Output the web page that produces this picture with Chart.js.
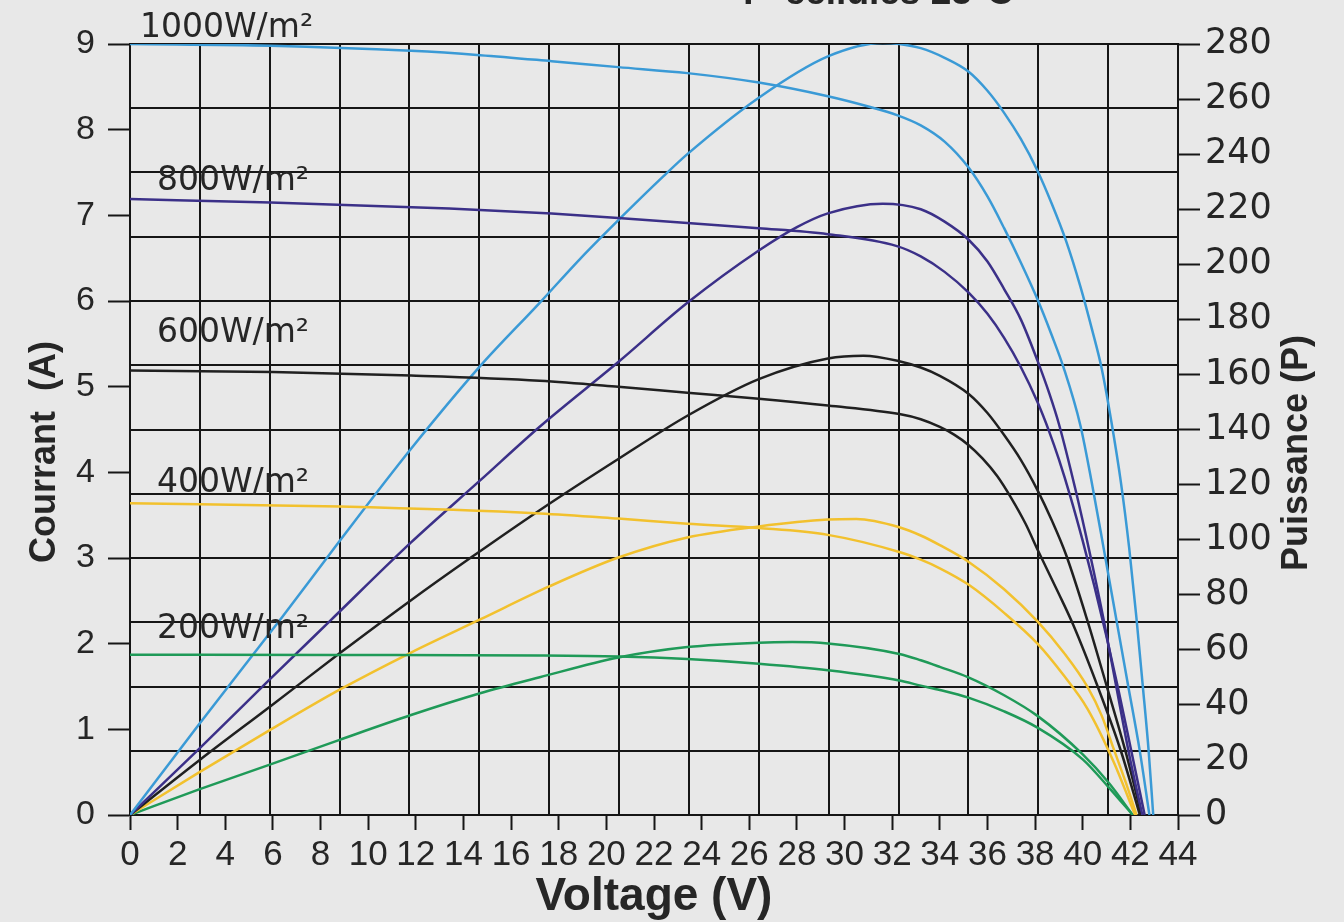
<!DOCTYPE html>
<html>
<head>
<meta charset="utf-8">
<script src="https://cdn.jsdelivr.net/npm/chart.js@4.4.0/dist/chart.umd.min.js"></script>
<style>
  html, body { margin: 0; padding: 0; background: #e8e8e8; }
  #wrap { width: 1344px; height: 922px; position: relative; }
</style>
</head>
<body>
<div id="wrap"><canvas id="curves"></canvas></div>
<script>
const irradiances = ['1000W/m²', '800W/m²', '600W/m²', '400W/m²', '200W/m²'];
const palette = ['#3a9ad6', '#3b3088', '#202020', '#f2c12e', '#1f9a58'];

const voltTicks = [0, 2, 4, 6, 8, 10, 12, 14, 16, 18, 20, 22, 24, 26, 28, 30, 32, 34, 36, 38, 40, 42, 44];
const ampTicks = [0, 1, 2, 3, 4, 5, 6, 7, 8, 9];
const wattTicks = [0, 20, 40, 60, 80, 100, 120, 140, 160, 180, 200, 220, 240, 260, 280];

// courant / tension : [V, A]
const iv1000 = [[0, 9.00], [5.9, 8.98], [11.8, 8.92], [14.7, 8.87], [17.7, 8.80], [20.5, 8.73], [23.4, 8.66], [26.4, 8.55], [29.3, 8.39], [31.0, 8.27], [32.2, 8.17], [33.2, 8.05], [34.2, 7.86], [35.2, 7.56], [36.0, 7.22], [36.7, 6.85], [37.4, 6.45], [38.1, 6.02], [38.7, 5.60], [39.2, 5.22], [39.9, 4.55], [40.4, 3.85], [40.9, 3.08], [41.4, 2.30], [41.9, 1.52], [42.4, 0.74], [42.8, 0]];
const iv800 = [[0, 7.19], [5.9, 7.15], [13.4, 7.08], [17.7, 7.02], [20.5, 6.97], [23.4, 6.91], [26.4, 6.85], [29.3, 6.78], [32.2, 6.64], [33.2, 6.52], [34.2, 6.34], [35.2, 6.10], [36.0, 5.85], [36.7, 5.57], [37.4, 5.23], [38.1, 4.82], [38.6, 4.47], [39.0, 4.15], [39.5, 3.70], [40.0, 3.20], [40.5, 2.66], [41.0, 2.08], [41.5, 1.46], [42.0, 0.80], [42.6, 0]];
const iv600 = [[0, 5.19], [6, 5.17], [11.8, 5.13], [17.2, 5.07], [20.5, 5.00], [23.4, 4.93], [26.4, 4.86], [29.3, 4.78], [32.3, 4.68], [33.2, 4.62], [34.0, 4.53], [34.6, 4.44], [35.2, 4.32], [35.8, 4.16], [36.4, 3.96], [37.0, 3.70], [37.6, 3.40], [38.1, 3.10], [39.0, 2.58], [39.6, 2.22], [40.6, 1.52], [41.6, 0.75], [42.4, 0]];
const iv400 = [[0, 3.64], [8.8, 3.60], [17.2, 3.52], [20.5, 3.46], [23.4, 3.40], [26.4, 3.35], [29.3, 3.27], [32.3, 3.07], [33.2, 2.98], [34.0, 2.88], [35.2, 2.69], [36.7, 2.36], [38.1, 2.00], [39.2, 1.63], [40.2, 1.24], [41.3, 0.62], [42.2, 0]];
const iv200 = [[0, 1.87], [8.8, 1.868], [17.2, 1.862], [20.5, 1.85], [23.4, 1.82], [26.4, 1.765], [29.3, 1.69], [32.3, 1.57], [33.2, 1.51], [34.0, 1.46], [35.2, 1.37], [36.7, 1.21], [38.1, 1.02], [40.0, 0.65], [41.1, 0.32], [42.1, 0]];

// puissance / tension : [V, W]
const pv1000 = [[0, 0], [2.9, 33], [6.4, 72], [8.8, 99.5], [11.8, 133], [14.7, 163], [17.2, 186], [18.9, 202], [20.5, 216], [22.4, 232], [23.4, 240], [26.4, 260.5], [29.3, 275.5], [31.6, 280.4], [32.3, 280], [33.2, 278.5], [34.2, 275], [35.2, 270], [36.0, 263], [36.7, 255], [37.4, 245.5], [38.1, 234], [38.7, 222], [39.3, 208.5], [39.9, 192], [40.4, 176], [40.8, 162], [41.2, 143], [41.6, 121], [41.95, 97], [42.25, 72], [42.52, 47], [42.77, 23], [42.96, 0]];
const pv800 = [[0, 0], [2.9, 24], [5.9, 49.5], [8.4, 70.5], [11.8, 99], [14.7, 121.5], [17.2, 141], [20.5, 164.5], [23.4, 186], [26.4, 205], [28.0, 213.5], [29.3, 218.5], [31.6, 222], [33.2, 220], [34.2, 215.5], [35.2, 209], [36.0, 201], [36.7, 191], [37.4, 180], [38.1, 165], [38.6, 153], [39.0, 142], [39.7, 118], [40.3, 95], [40.9, 70], [41.4, 47], [41.95, 22], [42.5, 0]];
const pv600 = [[0, 0], [2.9, 19.8], [5.9, 39.5], [8.8, 58.7], [11.8, 78], [14.3, 93.4], [17.2, 110.7], [20.5, 129.3], [23.4, 145], [26.4, 158.3], [29.3, 165.8], [30.8, 166.8], [32.3, 164.8], [33.2, 162.5], [34.0, 159.5], [35.2, 153], [36.0, 146], [36.7, 138], [37.4, 129], [38.1, 118], [38.7, 107], [39.3, 94.5], [40.2, 70.5], [41.0, 47], [41.8, 23], [42.47, 0]];
const pv400 = [[0, 0], [2.9, 15.5], [5.9, 31], [8.8, 45.5], [11.8, 59], [14.7, 71], [17.6, 83], [20.5, 93.5], [23.4, 100.8], [26.4, 104.8], [29.3, 107.3], [30.5, 107.5], [32.3, 104.5], [33.2, 101.5], [34.0, 98], [35.2, 92], [36.7, 82], [38.1, 70.3], [39.2, 59], [40.2, 46.5], [40.8, 36], [41.3, 24], [41.8, 12], [42.26, 0]];
const pv200 = [[0, 0], [2.9, 9.3], [5.9, 18.4], [8.8, 27.3], [11.8, 36.3], [14.7, 44.2], [17.2, 50], [20.5, 57.2], [23.4, 61], [26.4, 62.6], [27.8, 62.8], [29.3, 62.3], [32.3, 58.5], [33.2, 56.2], [34.0, 53.8], [35.2, 50], [36.7, 43.5], [38.1, 36], [40.0, 22], [41.1, 11.6], [42.1, 0]];

const ivCurves = [iv1000, iv800, iv600, iv400, iv200];
const pvCurves = [pv1000, pv800, pv600, pv400, pv200];

const ink = '#262626';
const gridInk = '#161616';

const toPoints = (pairs) => pairs.map(([x, y]) => ({ x, y }));

const curve = (pairs, idx, axis) => ({
  data: toPoints(pairs),
  yAxisID: axis,
  borderColor: palette[idx],
  borderWidth: 2.5,
  pointRadius: 0,
  fill: false,
  cubicInterpolationMode: 'monotone',
});

const datasets = [
  ...ivCurves.map((pairs, idx) => curve(pairs, idx, 'y')),
  ...pvCurves.map((pairs, idx) => curve(pairs, idx, 'yP')),
];

const fixTicks = (values) => (scale) => {
  scale.ticks = values.map((value) => ({ value }));
};

const steps = (max, count) => Array.from({ length: count + 1 }, (_, i) => (i * max) / count);

// label positions in data units (volts, amps)
const labelSpots = [[0.42, 9.08], [1.13, 7.30], [1.13, 5.52], [1.13, 3.77], [1.13, 2.07]];

const panelText = {
  id: 'panelText',
  afterDraw(chart) {
    const { ctx, scales } = chart;
    ctx.save();
    ctx.fillStyle = ink;
    ctx.textAlign = 'left';
    ctx.textBaseline = 'alphabetic';
    ctx.font = '33px "DejaVu Sans"';
    irradiances.forEach((label, idx) => {
      const [v, a] = labelSpots[idx];
      ctx.fillText(label, scales.x.getPixelForValue(v), scales.y.getPixelForValue(a));
    });

    ctx.font = 'bold 37px "Liberation Sans"';
    ctx.fillText('T° cellules 25°C', 737, 4);

    ctx.font = 'bold 36px "Liberation Sans"';
    ctx.textAlign = 'center';
    ctx.textBaseline = 'middle';
    const side = (text, x, y) => {
      ctx.save();
      ctx.translate(x, y);
      ctx.rotate(-Math.PI / 2);
      ctx.fillText(text, 0, 0);
      ctx.restore();
    };
    side('Courrant  (A)', 45, 452);
    side('Puissance (P)', 1297, 453);
    ctx.restore();
  },
};

new Chart(document.getElementById('curves'), {
  type: 'line',
  data: { datasets },
  plugins: [panelText],
  options: {
    responsive: true,
    maintainAspectRatio: false,
    animation: false,
    layout: { padding: { top: 44, left: 0, right: 0, bottom: 0 } },
    plugins: { legend: { display: false }, tooltip: { enabled: false } },
    scales: {
      x: {
        type: 'linear',
        position: 'bottom',
        min: 0,
        max: 44,
        afterBuildTicks: fixTicks(voltTicks),
        afterFit: (s) => { s.height = 107; },
        ticks: { color: ink, padding: 4, maxRotation: 0, autoSkip: false, font: { family: 'Liberation Sans', size: 35 } },
        grid: { drawOnChartArea: false, drawTicks: true, tickLength: 15, tickWidth: 2, tickColor: gridInk },
        border: { display: true, color: gridInk, width: 2 },
        title: { display: true, text: 'Voltage (V)', color: ink, padding: { top: 0, bottom: 2 }, font: { family: 'Liberation Sans', size: 46, weight: 'bold', lineHeight: 1 } },
      },
      xGrid: {
        type: 'linear',
        position: 'bottom',
        min: 0,
        max: 44,
        afterBuildTicks: fixTicks(steps(44, 15)),
        afterFit: (s) => { s.height = 0; },
        ticks: { display: false },
        grid: { drawOnChartArea: true, drawTicks: false, color: gridInk, lineWidth: 2 },
        border: { display: false },
      },
      y: {
        type: 'linear',
        position: 'left',
        min: 0,
        max: 9,
        afterBuildTicks: fixTicks(ampTicks),
        afterFit: (s) => { s.width = 130; },
        ticks: { color: ink, padding: 13, font: { family: 'Liberation Sans', size: 34 } },
        grid: { drawOnChartArea: false, drawTicks: true, tickLength: 22, tickWidth: 2, tickColor: gridInk },
        border: { display: true, color: gridInk, width: 2 },
      },
      yGrid: {
        type: 'linear',
        position: 'left',
        min: 0,
        max: 9,
        afterBuildTicks: fixTicks(steps(9, 12)),
        afterFit: (s) => { s.width = 0; },
        ticks: { display: false },
        grid: { drawOnChartArea: true, drawTicks: false, color: gridInk, lineWidth: 2 },
        border: { display: false },
      },
      yP: {
        type: 'linear',
        position: 'right',
        min: 0,
        max: 280,
        afterBuildTicks: fixTicks(wattTicks),
        afterFit: (s) => { s.width = 166; },
        ticks: { color: ink, padding: 5, font: { family: 'DejaVu Sans', size: 35 } },
        grid: { drawOnChartArea: false, drawTicks: true, tickLength: 22, tickWidth: 2, tickColor: gridInk },
        border: { display: true, color: gridInk, width: 2 },
      },
    },
  },
});
</script>
</body>
</html>
